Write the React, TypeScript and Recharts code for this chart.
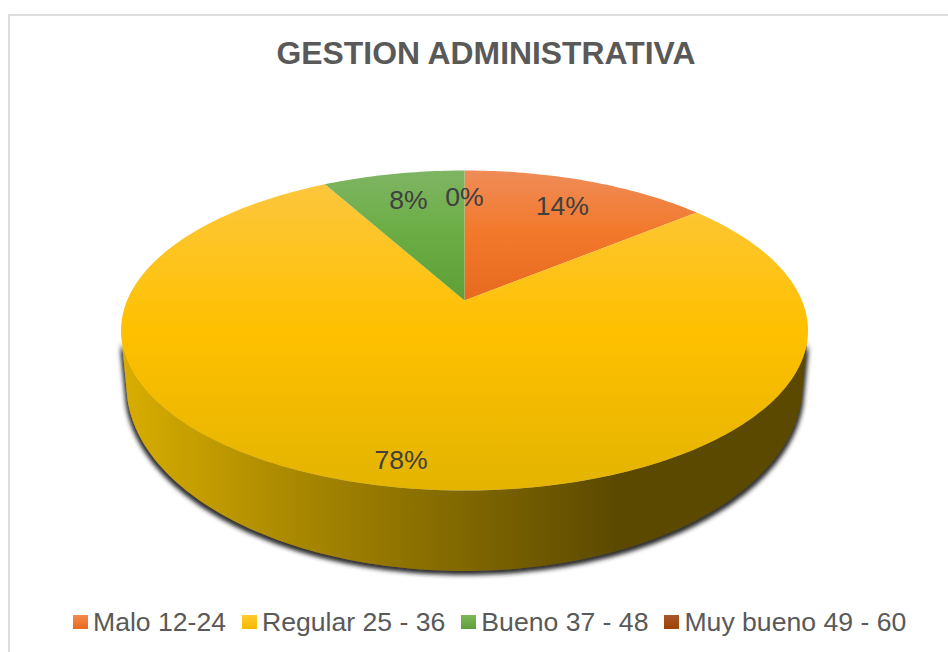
import { PieChart, Pie, Legend } from "recharts";

// ── Chart data ──────────────────────────────────────────────────────────────
const CATEGORIES = ["Malo 12-24", "Regular 25 - 36", "Bueno 37 - 48", "Muy bueno 49 - 60"];
const PERCENTS = [14, 78, 8, 0];
const SLICE_IDS = ["malo", "regular", "bueno", "muy"];

// ── Look ────────────────────────────────────────────────────────────────────
const FONT = '"Liberation Sans", Arial, sans-serif';
const TEXT_GREY = "#595959";
const LABEL_GREY = "#404040";
const LABEL_RADII = [0.77, 0.87, 0.76, 0.77];
const LABEL_NUDGE = [[0, 1], [2, 2], [0, -1], [0, 0]];

// perspective of the tilted disc
const TILT = 0.1875;
const SQUASH = 0.4576;
const PIE_CX = 464.5;
const PIE_CY = 300.5;
const PIE_R = 337.4;
// the lower rim of the wall, relative to the top face
const RIM_DY = 49.5;
const RIM_R = 332;
const RIM_SQUASH = 0.5407;
// only this part of the wall faces the viewer (degrees, as Recharts gives them)
const WALL_FROM = -15;
const WALL_TO = -165;

const rows = CATEGORIES.map((name, i) => ({
  name,
  value: PERCENTS[i],
  fill: `url(#top-${SLICE_IDS[i]})`,
  swatch: `url(#swatch-${SLICE_IDS[i]})`,
}));

function project(cx: number, cy: number, r: number, squash: number, deg: number, f = 1) {
  const a = (deg * Math.PI) / 180;
  const u = Math.cos(a) * f;
  const v = Math.sin(a) * f;
  const d = 1 + TILT * v;
  return [cx + (r * u) / d, cy - (r * squash * v) / d];
}

function arc(cx: number, cy: number, r: number, squash: number, from: number, to: number) {
  const steps = Math.max(1, Math.ceil(Math.abs(to - from)));
  const pts: number[][] = [];
  for (let i = 0; i <= steps; i++) {
    pts.push(project(cx, cy, r, squash, from + ((to - from) * i) / steps));
  }
  return pts;
}

const toPath = (pts: number[][]) =>
  pts.map((p, i) => `${i ? "L" : "M"}${p[0].toFixed(2)} ${p[1].toFixed(2)}`).join(" ") + " Z";

function TopFace(props: any) {
  const { cx, cy, outerRadius, startAngle, endAngle, fill } = props;
  const pts = [[cx, cy], ...arc(cx, cy, outerRadius, SQUASH, startAngle, endAngle)];
  return <path d={toPath(pts)} fill={fill} stroke="none" />;
}

function WallFace(props: any) {
  const { cx, cy, outerRadius, startAngle, endAngle } = props;
  // angles run clockwise, so start > end
  const from = Math.min(startAngle, WALL_FROM);
  const to = Math.max(endAngle, WALL_TO);
  if (from <= to) return <g />;
  const top = arc(cx, cy, outerRadius, SQUASH, from, to);
  const rim = arc(cx, cy + RIM_DY, RIM_R, RIM_SQUASH, to, from);
  return <path d={toPath([...top, ...rim])} fill="url(#wall)" filter="url(#wall-shadow)" stroke="none" />;
}

function PercentLabel(props: any) {
  const { cx, cy, outerRadius, midAngle, index, percent } = props;
  const [x, y] = project(cx, cy, outerRadius, SQUASH, midAngle, LABEL_RADII[index]);
  return (
    <text
      x={x + LABEL_NUDGE[index][0]}
      y={y + LABEL_NUDGE[index][1]}
      textAnchor="middle"
      dominantBaseline="central"
      fill={LABEL_GREY}
      fontFamily={FONT}
      fontSize={26.6}
    >
      {`${Math.round(percent * 100)}%`}
    </text>
  );
}

function LegendRow() {
  return (
    <div style={{ display: "flex", alignItems: "center", whiteSpace: "nowrap" }}>
      {rows.map((r) => (
        <span key={r.name} style={{ display: "flex", alignItems: "center", marginRight: 16 }}>
          <svg width={15} height={14} style={{ marginRight: 5, position: "relative", top: -1 }}>
            <rect width={15} height={14} fill={r.swatch} />
          </svg>
          <span style={{ fontFamily: FONT, fontSize: 26.6, color: TEXT_GREY }}>{r.name}</span>
        </span>
      ))}
    </div>
  );
}

export default function App() {
  return (
    <div style={{ position: "absolute", left: 0, top: 0, width: 948, height: 652, background: "#fff", overflow: "hidden" }}>
      <PieChart width={948} height={652} margin={{ top: 0, right: 0, bottom: 0, left: 0 }}>
        <defs>
          <linearGradient id="top-malo" gradientUnits="userSpaceOnUse" x1="0" y1="170" x2="0" y2="490">
            <stop offset="0" stopColor="#EF8C58" />
            <stop offset="0.2" stopColor="#F2782A" />
            <stop offset="0.41" stopColor="#E76A1F" />
          </linearGradient>
          <linearGradient id="top-regular" gradientUnits="userSpaceOnUse" x1="0" y1="170" x2="0" y2="490">
            <stop offset="0" stopColor="#FDC642" />
            <stop offset="0.2" stopColor="#FDC528" />
            <stop offset="0.5" stopColor="#FFC000" />
            <stop offset="1" stopColor="#E3B400" />
          </linearGradient>
          <linearGradient id="top-bueno" gradientUnits="userSpaceOnUse" x1="0" y1="170" x2="0" y2="490">
            <stop offset="0" stopColor="#7FB563" />
            <stop offset="0.2" stopColor="#6BAD44" />
            <stop offset="0.41" stopColor="#5E9F38" />
          </linearGradient>
          <linearGradient id="top-muy" gradientUnits="userSpaceOnUse" x1="0" y1="170" x2="0" y2="490">
            <stop offset="0" stopColor="#A9511F" />
            <stop offset="1" stopColor="#9E480E" />
          </linearGradient>
          <linearGradient id="wall" gradientUnits="userSpaceOnUse" x1="121" y1="0" x2="808" y2="0">
            <stop offset="0" stopColor="#D9AE00" />
            <stop offset="0.26" stopColor="#A88700" />
            <stop offset="0.5" stopColor="#806700" />
            <stop offset="0.72" stopColor="#5C4A00" />
            <stop offset="1" stopColor="#5C4A00" />
          </linearGradient>
          <linearGradient id="swatch-malo" x1="0" y1="0" x2="0" y2="1">
            <stop offset="0" stopColor="#F58A4B" />
            <stop offset="1" stopColor="#E76A1F" />
          </linearGradient>
          <linearGradient id="swatch-regular" x1="0" y1="0" x2="0" y2="1">
            <stop offset="0" stopColor="#FFCB2E" />
            <stop offset="1" stopColor="#F4BA00" />
          </linearGradient>
          <linearGradient id="swatch-bueno" x1="0" y1="0" x2="0" y2="1">
            <stop offset="0" stopColor="#7FB85A" />
            <stop offset="1" stopColor="#5E9F38" />
          </linearGradient>
          <linearGradient id="swatch-muy" x1="0" y1="0" x2="0" y2="1">
            <stop offset="0" stopColor="#A9572A" />
            <stop offset="1" stopColor="#9E4200" />
          </linearGradient>
          <filter id="wall-shadow" x="-5%" y="-5%" width="110%" height="110%">
            <feMorphology in="SourceAlpha" operator="dilate" radius="1.5" result="grown" />
            <feGaussianBlur in="grown" stdDeviation="2.2" result="soft" />
            <feOffset in="soft" dy="2" result="moved" />
            <feFlood floodColor="#222" floodOpacity="0.95" />
            <feComposite in2="moved" operator="in" result="shadow" />
            <feMerge>
              <feMergeNode in="shadow" />
              <feMergeNode in="SourceGraphic" />
            </feMerge>
          </filter>
        </defs>

        <rect x={9} y={15} width={1000} height={1000} fill="none" stroke="#D9D9D9" strokeWidth={1.75} />
        <text
          x={486}
          y={64}
          textAnchor="middle"
          fill={TEXT_GREY}
          fontFamily={FONT}
          fontSize={31.86}
          fontWeight="bold"
        >
          GESTION ADMINISTRATIVA
        </text>

        <Pie
          data={rows}
          dataKey="value"
          nameKey="name"
          cx={PIE_CX}
          cy={PIE_CY}
          outerRadius={PIE_R}
          startAngle={90}
          endAngle={-270}
          legendType="none"
          shape={WallFace}
          label={false}
          labelLine={false}
          stroke="none"
          isAnimationActive={false}
        />
        <Pie
          data={rows}
          dataKey="value"
          nameKey="name"
          cx={PIE_CX}
          cy={PIE_CY}
          outerRadius={PIE_R}
          startAngle={90}
          endAngle={-270}
          shape={TopFace}
          label={PercentLabel}
          labelLine={false}
          stroke="none"
          isAnimationActive={false}
        />
        <Legend
          content={LegendRow}
          wrapperStyle={{ position: "absolute", left: 73, top: 607, width: 860, height: 36, bottom: "auto" }}
        />
      </PieChart>
    </div>
  );
}
